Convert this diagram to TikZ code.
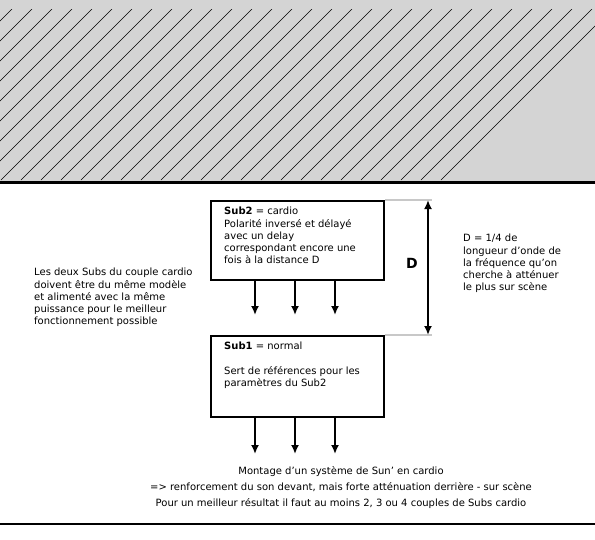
\documentclass[tikz,border=0pt]{standalone}
\usepackage{fontspec}
\setmainfont{DejaVu Sans}
\usetikzlibrary{arrows.meta,calc,positioning}
\definecolor{floorgray}{RGB}{212,212,212}
\definecolor{guidegray}{RGB}{200,200,200}
\tikzset{
  subbox/.style={draw,line width=2pt,minimum width=173pt,anchor=north west,inner sep=0pt},
  note/.style={font=\fontsize{10}{12.2}\selectfont,align=left,anchor=north west,inner sep=0pt},
  wave/.style={line width=1.8pt,-{Latex[length=9pt,width=8pt]}},
}
\begin{document}
\begin{tikzpicture}[x=1pt,y=-1pt]
\useasboundingbox (0,0) rectangle (595,539);
% scene
\fill [floorgray] (0,0) rectangle (595,181);
\begin{scope}
  \clip (0,9) rectangle (595,180);
  \foreach \k in {-10,...,30}
    \draw [black,line width=0.6pt] (12+20*\k-171,180) -- (12+20*\k,9);
\end{scope}
\draw [black,line width=3pt] (0,182) -- (595,182);

% subs
\node [subbox,minimum height=79pt] (sub2) at (210,200) {};
\node [subbox,minimum height=81pt] (sub1) at (210,335) {};
\node [note] (sub2txt) at (224,207) {\textbf{Sub2} = cardio\\Polarité inversé et délayé\\avec un delay\\correspondant encore une\\fois à la distance D};
\node [note] (sub1txt) at (224,342) {\textbf{Sub1} = normal\\[12pt]Sert de références pour les\\paramètres du Sub2};
\foreach \dx [count=\i] in {45,85,125} {
  \coordinate (s2a\i) at ($(sub2.south west)+(\dx,0)$);
  \coordinate (s2b\i) at ($(s2a\i)+(0,34)$);
  \draw [wave] (s2a\i) -- (s2b\i);
  \coordinate (s1a\i) at ($(sub1.south west)+(\dx,0)$);
  \coordinate (s1b\i) at ($(s1a\i)+(0,36)$);
  \draw [wave] (s1a\i) -- (s1b\i);
}

% distance D
\coordinate (dtop) at (428,200);
\coordinate (dbot) at (428,335);
\draw [guidegray,line width=1.5pt] (sub2.north east) -- ($(dtop)+(4,0)$);
\draw [guidegray,line width=1.5pt] (sub1.north east) -- ($(dbot)+(4,0)$);
\draw [line width=1.8pt,{Latex[length=9pt,width=8pt]}-{Latex[length=9pt,width=8pt]}] (dtop) -- (dbot);
\node [font=\bfseries\fontsize{14}{16}\selectfont,inner sep=0pt] (dlabel) at (412,263) {D};
\node [note] (dnote) at (463,234) {D = 1/4 de\\longueur d’onde de\\la fréquence qu’on\\cherche à atténuer\\le plus sur scène};

% remarks
\node [note] (pair) at (34,268) {Les deux Subs du couple cardio\\doivent être du même modèle\\et alimenté avec la même\\puissance pour le meilleur\\fonctionnement possible};
\node [note,align=center,anchor=north,font=\fontsize{10}{16}\selectfont] (caption) at (341,466) {Montage d’un système de Sun’ en cardio\\=> renforcement du son devant, mais forte atténuation derrière - sur scène\\Pour un meilleur résultat il faut au moins 2, 3 ou 4 couples de Subs cardio};
\draw [black,line width=1.5pt] (0,524) -- (595,524);
\end{tikzpicture}
\end{document}
